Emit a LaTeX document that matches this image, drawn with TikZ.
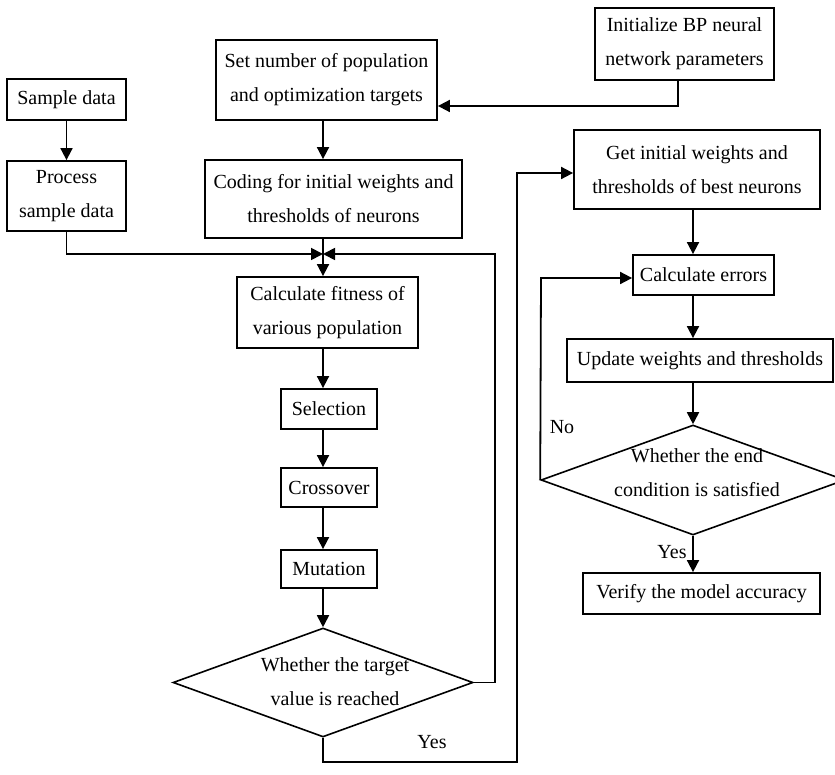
\documentclass[tikz,border=0pt]{standalone}
\usepackage{fontspec}
\setmainfont{Liberation Serif}
\usetikzlibrary{arrows.meta,shapes.geometric}
\begin{document}
\begin{tikzpicture}[x=1pt,y=-1pt,
  every node/.style={font=\fontsize{20}{34}\selectfont},
  box/.style={draw,line width=1.8pt,rectangle,inner sep=0pt,align=center},
  dia/.style={draw,line width=1.6pt,diamond,inner sep=0pt},
  txt/.style={align=center,inner sep=0pt},
  arr/.style={line width=1.8pt,-{Triangle[length=12pt,width=12pt]}},
  ln/.style={line width=1.8pt}]
\useasboundingbox[fill=white] (0,0) rectangle (835,775);
% boxes
\node[box,minimum width=119,minimum height=41] (sample) at (66.5,99.5) {Sample data};
\node[box,minimum width=119,minimum height=70] (process) at (66.5,196) {Process\\sample data};
\node[box,minimum width=221,minimum height=80] (setnum) at (326.5,80) {Set number of population\\and optimization targets};
\node[box,minimum width=257,minimum height=78] (coding) at (333.5,199) {Coding for initial weights and\\thresholds of neurons};
\node[box,minimum width=179,minimum height=72] (initbp) at (684.5,44) {Initialize BP neural\\network parameters};
\node[box,minimum width=181,minimum height=71] (fitness) at (327.5,312.5) {Calculate fitness of\\various population};
\node[box,minimum width=96,minimum height=40] (selection) at (329,409) {Selection};
\node[box,minimum width=96,minimum height=39] (crossover) at (329,487.5) {Crossover};
\node[box,minimum width=96,minimum height=38] (mutation) at (329,569) {Mutation};
\node[box,minimum width=246,minimum height=79] (getinit) at (697,169.5) {Get initial weights and\\thresholds of best neurons};
\node[box,minimum width=141,minimum height=40] (calcerr) at (703.5,275) {Calculate errors};
\node[box,minimum width=266,minimum height=43] (update) at (700,360.5) {Update weights and thresholds};
\node[box,minimum width=237,minimum height=41] (verify) at (701.5,593.5) {Verify the model accuracy};
% diamonds
\node[dia,minimum width=300,minimum height=109] (d1) at (323,682.5) {};
\node[txt] (d1t) at (335,682) {Whether the target\\value is reached};
\node[dia,minimum width=304,minimum height=110] (d2) at (693,480) {};
\node[txt] (d2t) at (697,473) {Whether the end\\condition is satisfied};
% labels
\node[inner sep=0pt] (yes1) at (432,742) {Yes};
\node[inner sep=0pt] (yes2) at (672,552) {Yes};
\node[inner sep=0pt] (no) at (562,427) {No};
% helper coordinates
\coordinate (c1) at (323,0);
\coordinate (c2) at (693,0);
\coordinate (m) at (323,254);
\coordinate (b1) at (678,106);
\coordinate (loop1) at (495,682.5);
\coordinate (y1) at (323,762);
\coordinate (r1) at (517,173);
\coordinate (n1) at (541,278);
% connectors
\draw[arr] (sample) -- (process);
\draw[arr] (process.south) |- (m);
\draw[arr] (setnum.south -| c1) -- (coding.north -| c1);
\draw[ln] (coding.south -| c1) -- (m);
\draw[arr] (m) -- (fitness.north -| c1);
\draw[arr] (initbp.south -| b1) -- (b1) -- (b1 -| setnum.east);
\draw[arr] (d1.east) -- (loop1) |- (m);
\draw[arr] (fitness.south -| c1) -- (selection.north -| c1);
\draw[arr] (selection.south -| c1) -- (crossover.north -| c1);
\draw[arr] (crossover.south -| c1) -- (mutation.north -| c1);
\draw[arr] (mutation.south -| c1) -- (d1.north);
\draw[arr] (d1.south) -- (y1) -| (r1) -- (r1 -| getinit.west);
\draw[arr] (getinit.south -| c2) -- (calcerr.north -| c2);
\draw[arr] (calcerr.south -| c2) -- (update.north -| c2);
\draw[arr] (update.south -| c2) -- (d2.north);
\draw[arr] (d2.south) -- (verify.north -| c2);
\draw[arr] (d2.west) -- (n1) -- (n1 -| calcerr.west);
\end{tikzpicture}
\end{document}
